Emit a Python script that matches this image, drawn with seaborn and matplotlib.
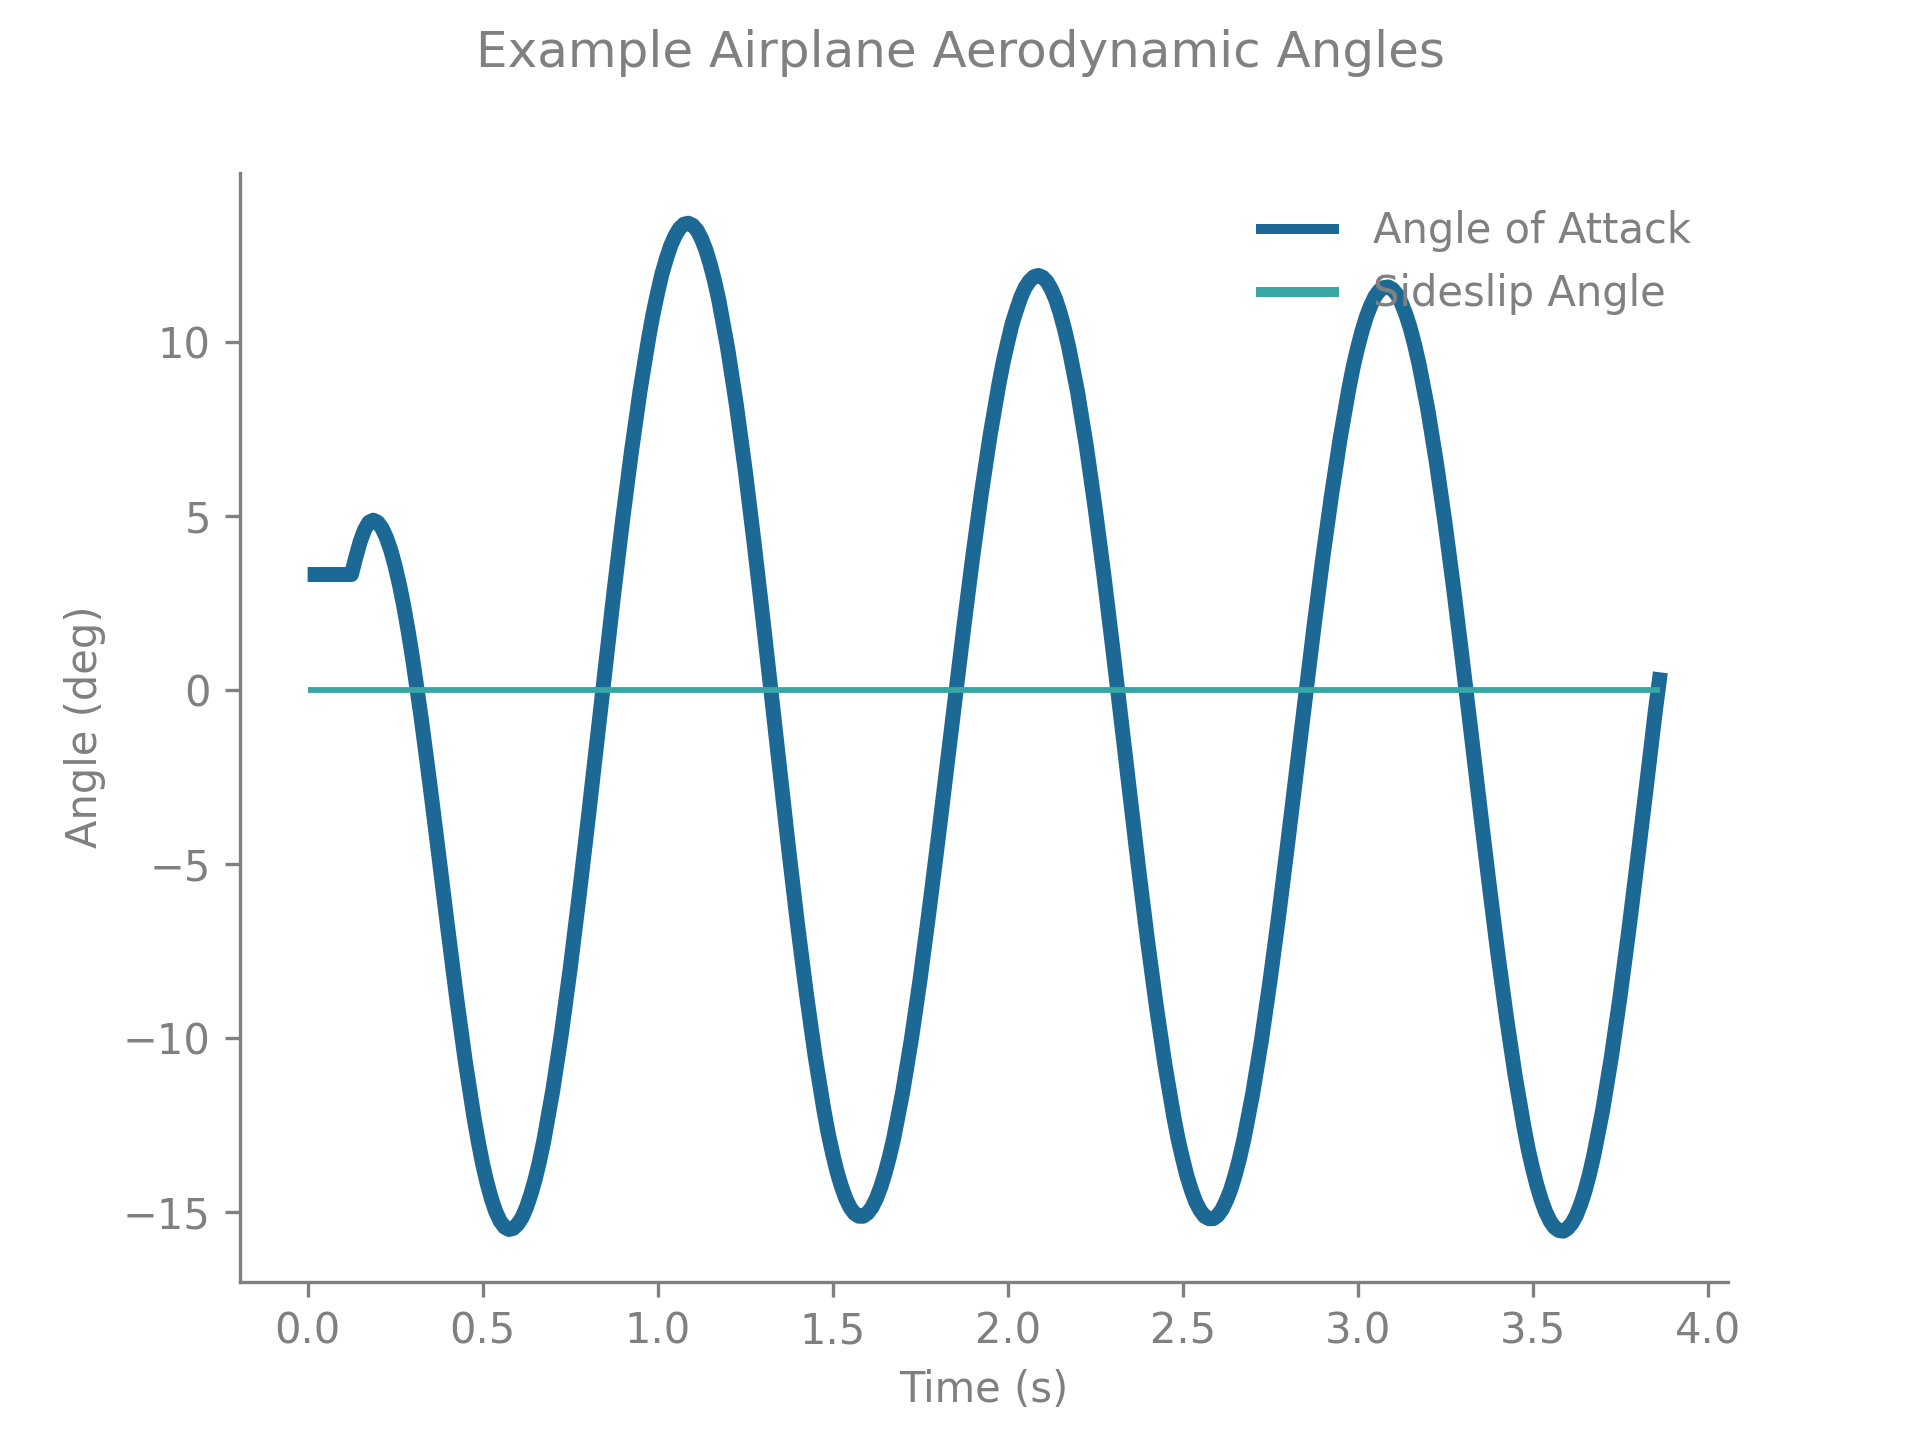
import numpy as np
import pandas as pd
import seaborn as sns
import matplotlib.pyplot as plt

# time base (s), sampled every 0.025 s, last sample where the trace stops
time_s = np.append(np.round(np.arange(0, 3.851, 0.025), 3), 3.865)

# angle of attack (deg)
angle_of_attack = [
    3.31, 3.31, 3.31, 3.31, 3.31, 3.31, 4.25, 4.81,
    4.81, 4.37, 3.55, 2.38, 0.89, -0.85, -2.77, -4.78,
    -6.82, -8.80, -10.64, -12.27, -13.62, -14.62, -15.26, -15.50,
    -15.35, -14.87, -14.06, -12.94, -11.53, -9.88, -8.02, -5.98, -3.84, -1.63,
    0.60, 2.79, 4.88, 6.83, 8.60, 10.14, 11.41, 12.38, 13.04, 13.37,
    13.34, 12.96, 12.23, 11.18, 9.81, 8.18, 6.32, 4.27, 2.10, -0.14,
    -2.40, -4.63, -6.76, -8.73, -10.52, -12.07, -13.32, -14.26, -14.87, -15.12,
    -15.03, -14.61, -13.88, -12.86, -11.56, -10.04, -8.31, -6.40, -4.40, -2.33,
    -0.24, 1.82, 3.80, 5.64, 7.31, 8.77, 9.97, 10.90, 11.55, 11.86,
    11.85, 11.50, 10.82, 9.82, 8.54, 6.99, 5.22, 3.29, 1.22, -0.92,
    -3.07, -5.20, -7.22, -9.10, -10.80, -12.28, -13.47, -14.37, -14.95, -15.19,
    -15.10, -14.67, -13.94, -12.91, -11.61, -10.08, -8.34, -6.45, -4.43, -2.35,
    -0.27, 1.79, 3.75, 5.56, 7.21, 8.65, 9.82, 10.71, 11.30, 11.55,
    11.50, 11.11, 10.40, 9.38, 8.08, 6.53, 4.77, 2.85, 0.80, -1.30,
    -3.43, -5.52, -7.53, -9.39, -11.08, -12.54, -13.75, -14.66, -15.26, -15.53,
    -15.47, -15.09, -14.38, -13.36, -12.08, -10.55, -8.80, -6.89, -4.86, -2.78,
    -0.66, 0.50,
]

# extra readings around each peak / trough so the turns stay round
fine_time = [
    0.1375, 0.1625, 0.1875, 0.2125, 0.2375, 0.2625, 0.2875,
    0.4875, 0.5125, 0.5375, 0.5625, 0.5875, 0.6125, 0.6375, 0.6625,
    0.9875, 1.0125, 1.0375, 1.0625, 1.0875, 1.1125, 1.1375, 1.1625,
    1.4875, 1.5125, 1.5375, 1.5625, 1.5875, 1.6125, 1.6375, 1.6625,
    1.9875, 2.0125, 2.0375, 2.0625, 2.0875, 2.1125, 2.1375, 2.1625,
    2.4875, 2.5125, 2.5375, 2.5625, 2.5875, 2.6125, 2.6375, 2.6625,
    2.9875, 3.0125, 3.0375, 3.0625, 3.0875, 3.1125, 3.1375, 3.1625,
    3.4875, 3.5125, 3.5375, 3.5625, 3.5875, 3.6125, 3.6375, 3.6625,
]
fine_aoa = [
    3.80, 4.59, 4.87, 4.64, 4.01, 3.01, 1.67,
    -12.98, -14.16, -14.99, -15.43, -15.47, -15.16, -14.50, -13.54,
    10.82, 11.95, 12.76, 13.25, 13.40, 13.20, 12.64, 11.75,
    -12.75, -13.84, -14.61, -15.04, -15.12, -14.86, -14.28, -13.40,
    9.42, 10.50, 11.27, 11.74, 11.90, 11.72, 11.21, 10.36,
    -12.93, -13.97, -14.71, -15.12, -15.19, -14.93, -14.35, -13.46,
    9.28, 10.30, 11.04, 11.47, 11.57, 11.35, 10.79, 9.92,
    -13.20, -14.24, -15.00, -15.44, -15.55, -15.32, -14.77, -13.91,
]

# sideslip angle (deg) stays at zero the whole time
sideslip_angle = [0.0] * len(time_s)

aoa_df = pd.concat([
    pd.DataFrame({'time': time_s, 'angle': angle_of_attack}),
    pd.DataFrame({'time': fine_time, 'angle': fine_aoa}),
]).sort_values('time')
beta_df = pd.DataFrame({'time': time_s, 'angle': sideslip_angle})

sns.set_style('ticks')
plt.rcParams.update({
    'font.family': ['DejaVu Sans'],
    'font.size': 10,
    'text.color': 'gray',
    'axes.labelcolor': 'gray',
    'axes.edgecolor': 'gray',
    'xtick.color': 'gray',
    'ytick.color': 'gray',
    'xtick.labelsize': 10,
    'ytick.labelsize': 10,
    'axes.labelsize': 10,
    'legend.fontsize': 10,
})

fig, ax = plt.subplots(figsize=(6.4, 4.8), dpi=300)

sns.lineplot(data=aoa_df, x='time', y='angle', ax=ax, color='#1d6996', linewidth=3.6,
             label='Angle of Attack', solid_capstyle='butt')
sns.lineplot(data=beta_df, x='time', y='angle', ax=ax, color='#38a6a5', linewidth=1.4,
             label='Sideslip Angle', solid_capstyle='butt')

ax.set_xlabel('Time (s)')
ax.set_ylabel('Angle (deg)')
sns.despine(ax=ax)

leg = ax.legend(loc='upper right', frameon=False)
for h in leg.get_lines():
    h.set_linewidth(2.4)

fig.suptitle('Example Airplane Aerodynamic Angles', fontsize=12, color='gray')

plt.savefig('out.png', dpi=300)
